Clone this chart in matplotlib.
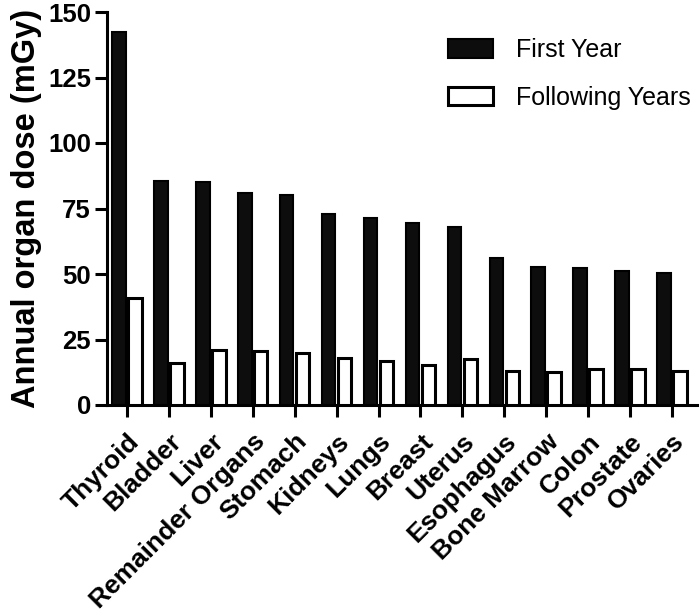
import matplotlib
matplotlib.use("Agg")
import matplotlib.pyplot as plt
import numpy as np

organs = ["Thyroid", "Bladder", "Liver", "Remainder Organs", "Stomach", "Kidneys",
          "Lungs", "Breast", "Uterus", "Esophagus", "Bone Marrow", "Colon",
          "Prostate", "Ovaries"]
first_year = [142.5, 85.5, 85.0, 81.0, 80.0, 73.0, 71.2, 69.3, 67.8, 56.0, 52.6, 52.2, 51.3, 50.5]
following_years = [41.0, 16.0, 21.0, 20.6, 20.0, 17.8, 16.9, 15.4, 17.4, 13.1, 12.6, 13.6, 13.9, 12.9]
yticks = [0, 25, 50, 75, 100, 125, 150]

plt.rcParams['font.family'] = ['Liberation Sans', 'DejaVu Sans']

fig = plt.figure(figsize=(7.0, 6.15), dpi=100)
ax = fig.add_axes([107/700, 1 - 405/615, (697-107)/700, (405-12)/615])

x = np.arange(len(organs))
w = 0.32
ax.bar(x - 0.19, first_year, width=w, color='#0d0d0d', edgecolor='black', linewidth=1.5,
       label='First Year', zorder=3)
ax.bar(x + 0.19, following_years, width=w, color='white', edgecolor='black', linewidth=2.2,
       label='Following Years', zorder=3)

ax.set_xlim(-0.48, 13.6)
ax.set_ylim(0, 150)
ax.set_yticks(yticks)
ax.set_yticklabels([str(v) for v in yticks], fontsize=18.5, fontweight='bold')
ax.set_xticks(x)
ax.set_xticklabels(organs, rotation=45, ha='right', rotation_mode='anchor',
                   fontsize=19, fontweight='bold')
ax.set_ylabel('Annual organ dose (mGy)', fontsize=23.5, fontweight='bold', labelpad=4)

for s in ['top', 'right']:
    ax.spines[s].set_visible(False)
for s in ['left', 'bottom']:
    ax.spines[s].set_linewidth(2.2)
ax.tick_params(axis='both', direction='out', length=8.5, width=2.2)
ax.tick_params(axis='y', pad=3)
ax.tick_params(axis='x', pad=9)

leg = fig.legend(*ax.get_legend_handles_labels(), loc='upper left',
                 bbox_to_anchor=(448/700, 1 - 38/615), bbox_transform=fig.transFigure,
                 frameon=False, fontsize=18, borderpad=0, borderaxespad=0,
                 handlelength=1.8, handleheight=0.78, labelspacing=0.95, handletextpad=0.92)

fig.savefig('out.png', dpi=100)
